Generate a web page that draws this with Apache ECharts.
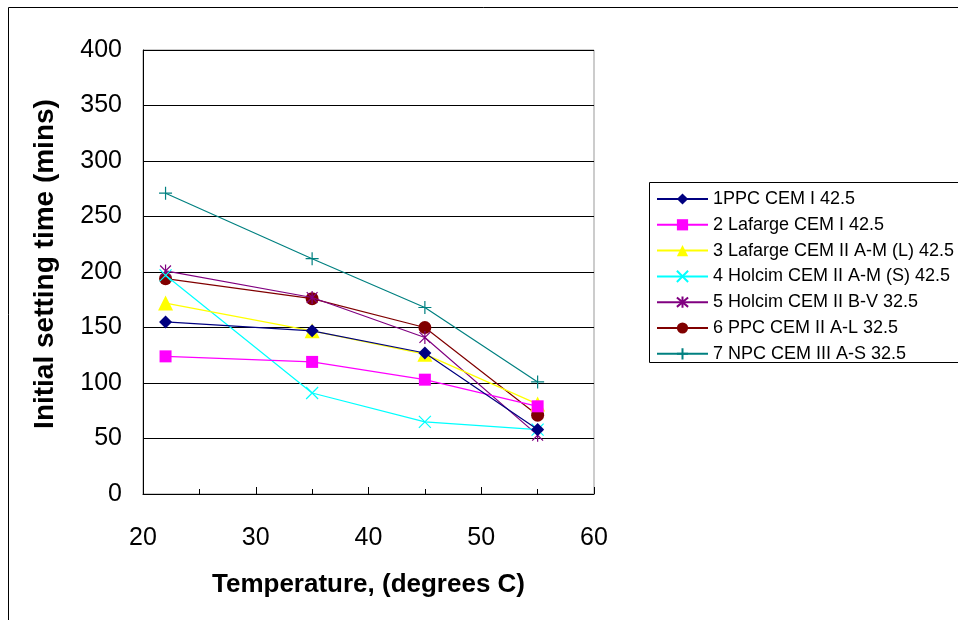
<!DOCTYPE html>
<html><head><meta charset="utf-8">
<script src="https://cdn.jsdelivr.net/npm/echarts@6/dist/echarts.min.js"></script>
<style>html,body{margin:0;padding:0;background:#fff}#c{width:958px;height:620px}</style>
</head><body><div id="c"></div>
<script>
const temps = [22, 35, 45, 55];
const names = ['1PPC CEM I 42.5','2 Lafarge CEM I 42.5','3 Lafarge CEM II A-M (L) 42.5','4 Holcim CEM II A-M (S) 42.5','5 Holcim CEM II B-V 32.5','6 PPC CEM II A-L 32.5','7 NPC CEM III A-S 32.5'];
const s1 = [155, 147, 127, 58];
const s2 = [124, 119, 103, 79];
const s3 = [172, 147, 126, 81];
const s4 = [197, 91, 65, 58];
const s5 = [201, 177, 141, 53];
const s6 = [194, 176, 150, 71];
const s7 = [271, 212, 168, 101];
const xTitle = 'Temperature, (degrees C)';
const yTitle = 'Initial setting time (mins)';

const allVals = [s1, s2, s3, s4, s5, s6, s7];
const colors = ['#000080','#FF00FF','#FFFF00','#00FFFF','#800080','#800000','#008080'];
const symbols = ['diamond','rect','triangle',
  'path://M0,0L10,10M10,0L0,10',
  'path://M0,0L10,10M10,0L0,10M5,-1L5,11',
  'circle',
  'path://M5,0L5,10M0,5L10,5'];
const sizes = [13, 12, 15, 12, 13, 13, 13];
const strokeOnly = [false,false,false,true,true,false,true];

const series = allVals.map((v, i) => ({
  name: names[i], type: 'line',
  data: temps.map((t, j) => [t, v[j]]),
  symbol: symbols[i], symbolSize: sizes[i], symbolKeepAspect: true,
  lineStyle: { color: colors[i], width: 1.2 },
  itemStyle: strokeOnly[i]
    ? { color: 'rgba(0,0,0,0)', borderColor: colors[i], borderWidth: 1.2 }
    : { color: colors[i], borderWidth: 0 },
  emphasis: { disabled: true },
  animation: false, z: 10 - i
}));

const chart = echarts.init(document.getElementById('c'));
chart.setOption({
  animation: false,
  textStyle: { fontFamily: 'Liberation Sans, Arial, sans-serif' },
  grid: { left: 143, top: 50, width: 451, height: 444, show: true, borderColor: '#999', borderWidth: 1, backgroundColor: 'transparent' },
  xAxis: {
    type: 'value', min: 20, max: 60, interval: 10,
    name: xTitle, nameLocation: 'middle', nameGap: 78,
    nameTextStyle: { fontSize: 26, fontWeight: 'bold', color: '#000' },
    axisLine: { lineStyle: { color: '#000', width: 1 } },
    axisTick: { inside: true, length: 7, lineStyle: { color: '#000' } },
    minorTick: { show: true, splitNumber: 2, length: 5, lineStyle: { color: '#000' } },
    splitLine: { show: false },
    axisLabel: { fontSize: 25, color: '#000', margin: 32 }
  },
  yAxis: {
    type: 'value', min: 0, max: 400, interval: 50,
    axisLine: { show: true, lineStyle: { color: '#000', width: 1 } },
    axisTick: { show: false },
    splitLine: { show: true, lineStyle: { color: '#000', width: 1 } },
    axisLabel: { fontSize: 25, color: '#000', margin: 21 }
  },
  legend: {
    orient: 'vertical', left: 656, top: 190, padding: 0,
    itemWidth: 51, itemHeight: 14, itemGap: 7.8,
    textStyle: { fontSize: 18, lineHeight: 18, color: '#000' },
    data: names
  },
  graphic: [
    { type: 'rect', shape: { x: 8.5, y: 7.5, width: 1000, height: 700 }, style: { fill: 'none', stroke: '#000', lineWidth: 1 }, silent: true },
    { type: 'rect', shape: { x: 649.5, y: 182.5, width: 400, height: 180 }, style: { fill: 'none', stroke: '#000', lineWidth: 1 }, silent: true },
    { type: 'text', x: 45, y: 264, rotation: Math.PI / 2,
      style: { text: yTitle, fontSize: 28, fontWeight: 'bold', fill: '#000', align: 'center', verticalAlign: 'middle', fontFamily: 'Liberation Sans, Arial, sans-serif' }, silent: true }
  ],
  series: series
});
</script></body></html>
